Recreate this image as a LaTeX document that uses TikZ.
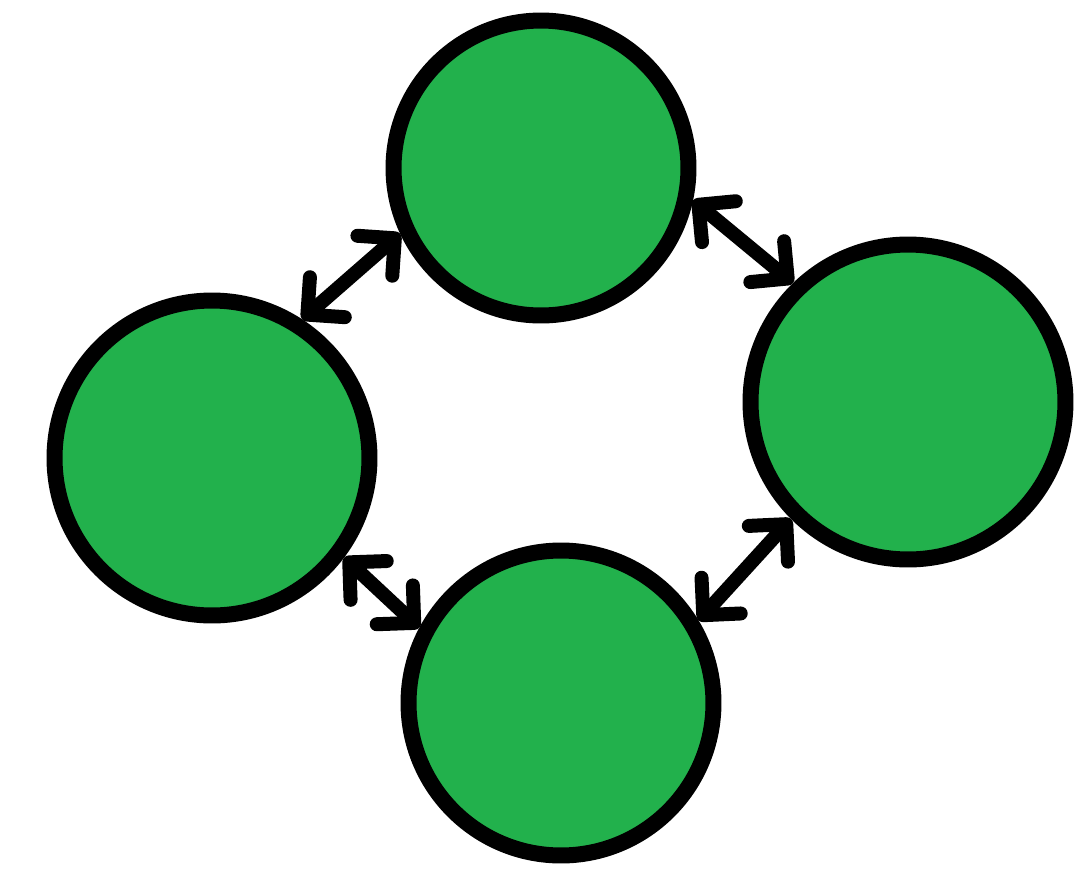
\documentclass[tikz,border=0pt]{standalone}
\usetikzlibrary{arrows.meta}
\definecolor{paintgreen}{RGB}{34,177,76}
\begin{document}
\begin{tikzpicture}[x=0.02cm,y=-0.02cm,
  ball/.style={circle,draw=black,fill=paintgreen,line width=0.32cm,inner sep=0pt},
  link/.style={line width=0.28cm,line cap=round,
    {Straight Barb[angle=90:0.75cm,round]}-{Straight Barb[angle=90:0.75cm,round]}}]
\useasboundingbox (0,0) rectangle (1086,873);
\node[ball,minimum size=6.3cm] (L) at (212,458) {};
\node[ball,minimum size=5.9cm] (T) at (541,168) {};
\node[ball,minimum size=6.3cm] (R) at (908,402) {};
\node[ball,minimum size=6.1cm] (B) at (561,703) {};
\draw[link] (L.57) -- (T.205);
\draw[link] (T.-12) -- (R.134);
\draw[link] (R.225) -- (B.31);
\draw[link] (L.-37) -- (B.152);
\end{tikzpicture}
\end{document}
